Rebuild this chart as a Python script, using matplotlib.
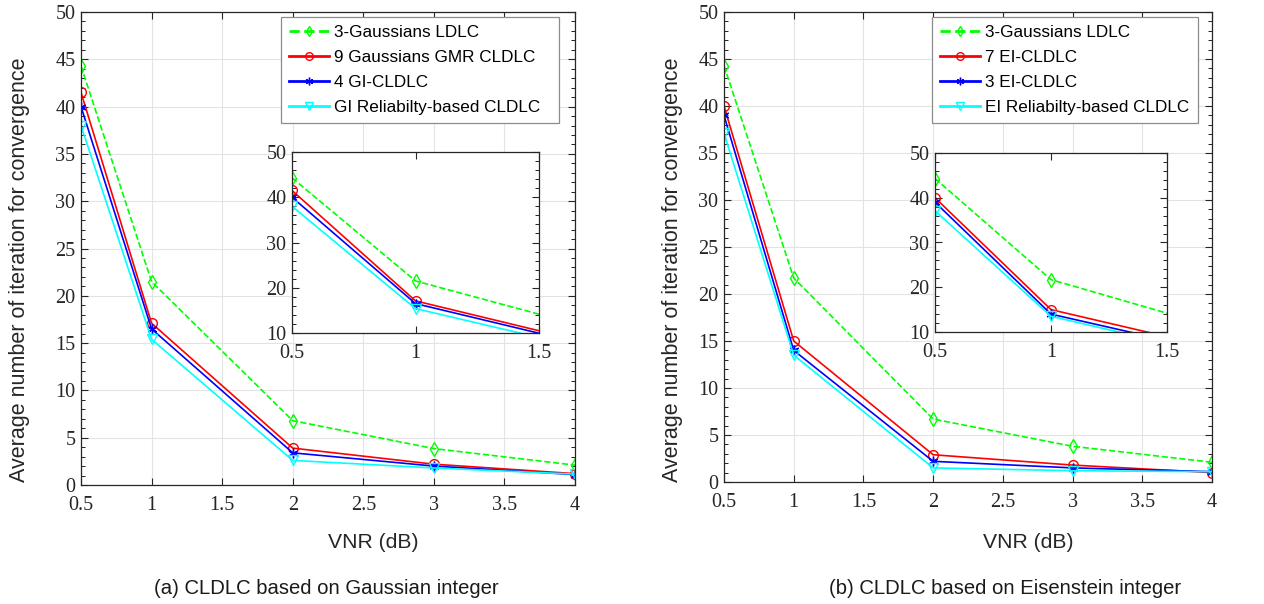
import numpy as np
import matplotlib.pyplot as plt

# dados
vnr = [0.5, 1, 2, 3, 4]

# (a) inteiro gaussiano
ga_ldlc = [44.3, 21.5, 6.8, 3.85, 2.1]
ga_gmr = [41.5, 17.1, 3.9, 2.2, 1.2]
ga_gi = [40.0, 16.5, 3.4, 2.0, 1.1]
ga_rel = [38.0, 15.4, 2.6, 1.8, 1.15]
labels_a = ["3-Gaussians LDLC", "9 Gaussians GMR CLDLC", "4 GI-CLDLC", "GI Reliabilty-based CLDLC"]

# (b) inteiro de Eisenstein
eb_ldlc = [44.3, 21.7, 6.7, 3.8, 2.1]
eb_7ei = [40.0, 15.0, 2.9, 1.8, 1.0]
eb_3ei = [39.0, 14.0, 2.2, 1.5, 1.1]
eb_rel = [37.1, 13.5, 1.5, 1.2, 1.1]
labels_b = ["3-Gaussians LDLC", "7 EI-CLDLC", "3 EI-CLDLC", "EI Reliabilty-based CLDLC"]

xticks = [0.5, 1, 1.5, 2, 2.5, 3, 3.5, 4]
yticks = [0, 5, 10, 15, 20, 25, 30, 35, 40, 45, 50]

estilos = [
    dict(color=(0, 1, 0), linestyle="--", marker="d"),
    dict(color="red", linestyle="-", marker="o"),
    dict(color="blue", linestyle="-", marker=(6, 2, 0)),
    dict(color="cyan", linestyle="-", marker="v"),
]

serif = "Liberation Serif"
sans = "Liberation Sans"
W, H = 1264, 604


def desenha(ax, series, labels, ms=7):
    for y, lab, st in zip(series, labels, estilos):
        ax.plot(vnr, y, label=lab, linewidth=1.2, markersize=ms,
                markerfacecolor="none", markeredgewidth=1.0, **st)


def estilo_eixo(ax, fs=14.5):
    ax.tick_params(direction="in", top=True, right=True, labelsize=fs, length=5, width=0.8,
                   colors="#262626")
    ax.tick_params(axis="x", pad=8)
    ax.tick_params(axis="y", pad=4)
    ax.tick_params(which="minor", direction="in", right=True, left=True, length=3)
    for lab in ax.get_xticklabels() + ax.get_yticklabels():
        lab.set_fontfamily(serif)
    for s in ax.spines.values():
        s.set_linewidth(0.9)
        s.set_color("#262626")


def px(x0, y0, x1, y1):
    # caixa em pixels (topo-esquerda) -> fração da figura
    return [x0 / W, 1 - y1 / H, (x1 - x0) / W, (y1 - y0) / H]


fig = plt.figure(figsize=(12.64, 6.04), dpi=100)

paineis = [
    dict(series=[ga_ldlc, ga_gmr, ga_gi, ga_rel], labels=labels_a,
         main=px(81, 12, 575, 485), inset=px(292, 152, 539, 333),
         leg=px(281, 17, 559, 124), ylx=20, xlx=373, cap="(a) CLDLC based on Gaussian integer", capx=326),
    dict(series=[eb_ldlc, eb_7ei, eb_3ei, eb_rel], labels=labels_b,
         main=px(724, 12, 1212, 482), inset=px(935, 153, 1167, 332),
         leg=px(932, 17, 1198, 123), ylx=673, xlx=1028, cap="(b) CLDLC based on Eisenstein integer", capx=1005),
]

for p in paineis:
    ax = fig.add_axes(p["main"])
    desenha(ax, p["series"], p["labels"])
    ax.set_xlim(0.5, 4)
    ax.set_ylim(0, 50)
    ax.set_xticks(xticks)
    ax.set_xticklabels([f"{t:g}" for t in xticks])
    ax.set_yticks(yticks)
    ax.set_yticks(np.arange(0, 51, 1), minor=True)
    ax.grid(True, color="#e3e3e3", linewidth=0.8)
    ax.set_axisbelow(True)
    estilo_eixo(ax)

    leg = ax.legend(loc="upper left", bbox_to_anchor=p["leg"], bbox_transform=fig.transFigure,
                    mode="expand", borderaxespad=0,
                    prop=dict(family=sans, size=12.3), fancybox=False, framealpha=1,
                    edgecolor="#8c8c8c", handlelength=2.35, borderpad=0.45, labelspacing=0.6,
                    handletextpad=0.3)
    leg.get_frame().set_linewidth(0.9)
    for h in leg.legend_handles:
        h.set_linewidth(2.0)
        h.set_markersize(5.5)

    fig.text(p["ylx"] / W, 1 - 270 / H, "Average number of iteration for convergence",
             rotation=90, ha="center", va="center", fontfamily=sans, fontsize=15.5, color="#262626")
    fig.text(p["xlx"] / W, 1 - 543 / H, "VNR (dB)", ha="center", va="center",
             fontfamily=sans, fontsize=15.2, color="#262626")
    fig.text(p["capx"] / W, 1 - 588 / H, p["cap"], ha="center", va="center",
             fontfamily=sans, fontsize=14.6, color="#1a1a1a")

    axi = fig.add_axes(p["inset"])
    desenha(axi, p["series"], p["labels"], ms=7)
    axi.set_xlim(0.5, 1.5)
    axi.set_ylim(10, 50)
    axi.set_xticks([0.5, 1, 1.5])
    axi.set_xticklabels(["0.5", "1", "1.5"])
    axi.set_yticks([10, 20, 30, 40, 50])
    axi.set_yticks(np.arange(10, 51, 2), minor=True)
    estilo_eixo(axi)

fig.savefig("out.png", dpi=100)
